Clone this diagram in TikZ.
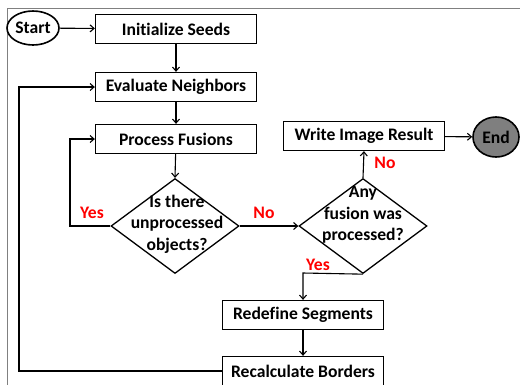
\documentclass[tikz,border=0pt]{standalone}
\usepackage{fontspec}
\setmainfont[Ligatures=NoCommon]{Carlito}
\usetikzlibrary{shapes.geometric,arrows.meta}
\definecolor{endgray}{HTML}{7F7F7F}
\definecolor{labred}{HTML}{FF0000}
\begin{document}
\begin{tikzpicture}[x=1pt,y=-1pt,
  font=\bfseries\fontsize{17.6}{21.5}\selectfont,
  box/.style={draw,line width=1.3pt,minimum width=161pt,minimum height=29pt,inner sep=0pt},
  term/.style={draw,ellipse,line width=1.6pt,inner sep=0pt},
  dia/.style={draw,diamond,line width=1.3pt,inner sep=0pt,minimum width=128pt,minimum height=95pt},
  conn/.style={line width=1.1pt,-{Straight Barb[length=4pt,width=7pt]}},
  ylab/.style={text=labred,inner sep=0pt}]
\useasboundingbox (0,0) rectangle (520,384);
\clip (0,0) rectangle (520,384);
\draw[gray,line width=0.9pt] (7,386) -- (7,8) -- (522,8);
\node[term,minimum width=52pt,minimum height=34pt] (start) at (33,28) {Start};
\node[box] (init) at (176,29) {Initialize Seeds};
\node[box] (eval) at (176,87) {Evaluate Neighbors};
\node[box] (proc) at (176,139) {Process Fusions};
\node[dia] (d1) at (175,226) {};
\node[align=center,inner sep=0pt] (d1t) at (177,224) {Is there\\unprocessed\\objects?};
\node[dia] (d2) at (363,226) {};
\node[align=center,inner sep=0pt] (d2t) at (363,215) {Any\\fusion was\\processed?};
\node[box] (write) at (364,136) {Write Image Result};
\node[term,fill=endgray,minimum width=46pt,minimum height=40pt] (end) at (496,137) {End};
\node[box] (redef) at (303,315) {Redefine Segments};
\node[box] (recalc) at (303,371) {Recalculate Borders};
\coordinate (lp1) at (70,226);
\coordinate (lp2) at (70,139);
\coordinate (bp) at (303,273);
\coordinate (rl1) at (19,371);
\coordinate (rl2) at (19,87);
\draw[conn] (start) -- (init);
\draw[conn] (init) -- (eval);
\draw[conn] (eval) -- (proc);
\draw[conn] (proc) -- (d1.north);
\draw[conn] (d1.west) -- (lp1) -- (lp2) -- (proc.west);
\draw[conn] (d1.east) -- (d2.west);
\draw[conn] (d2.north) -- (write.south);
\draw[conn] (write) -- (end);
\draw[conn] (d2.south) -- (bp) -- (redef.north);
\draw[conn] (redef) -- (recalc);
\draw[conn] (recalc.west) -- (rl1) -- (rl2) -- (eval.west);
\node[ylab] (yes1) at (92,213) {Yes};
\node[ylab] (no1) at (264,213) {No};
\node[ylab] (no2) at (385,163) {No};
\node[ylab] (yes2) at (318,265) {Yes};
\end{tikzpicture}
\end{document}
